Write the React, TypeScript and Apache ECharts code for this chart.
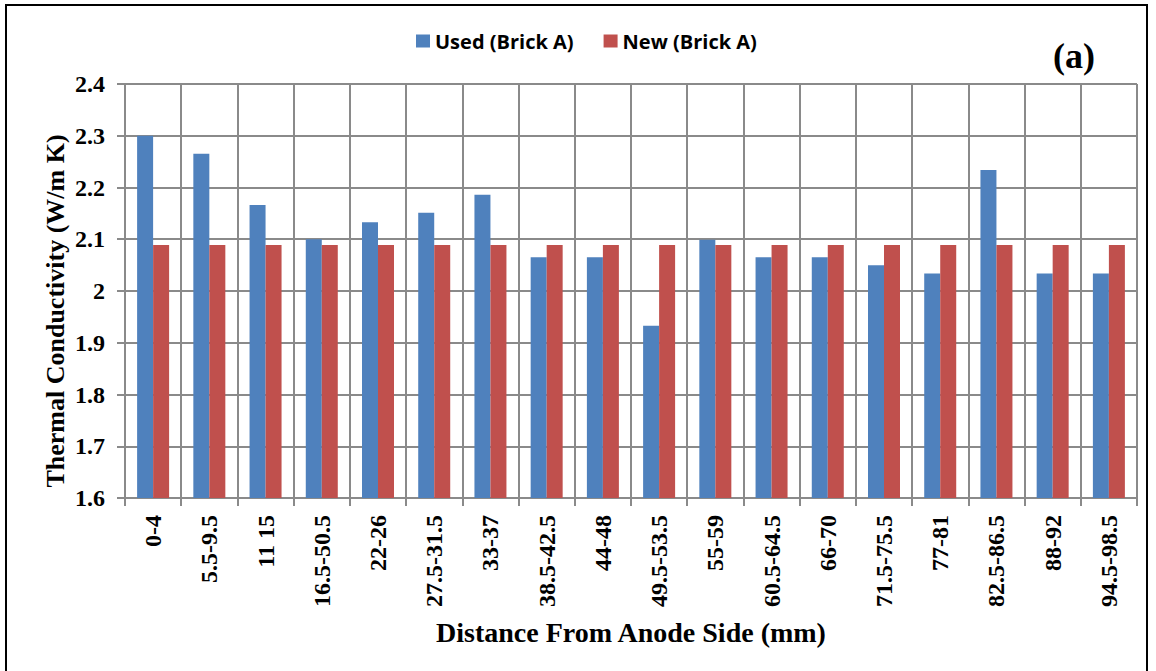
import React, { useEffect, useRef } from "react";
import * as echarts from "echarts";

const categories = [
  "0-4", "5.5-9.5", "11 15", "16.5-50.5", "22-26", "27.5-31.5", "33-37", "38.5-42.5", "44-48",
  "49.5-53.5", "55-59", "60.5-64.5", "66-70", "71.5-75.5", "77-81", "82.5-86.5", "88-92", "94.5-98.5",
];
const usedBrickA = [2.3, 2.265, 2.166, 2.1, 2.133, 2.151, 2.186, 2.065, 2.065, 1.933, 2.099, 2.065, 2.065, 2.05, 2.034, 2.234, 2.034, 2.034];
const newBrickA = [2.089, 2.089, 2.089, 2.089, 2.089, 2.089, 2.089, 2.089, 2.089, 2.089, 2.089, 2.089, 2.089, 2.089, 2.089, 2.089, 2.089, 2.089];
const yMin = 1.6;
const yMax = 2.4;
const yInterval = 0.1;
const yTitle = "Thermal Conductivity (W/m K)";

const serif = "'Liberation Serif', 'Times New Roman', serif";
const sans = "'Open Sans', 'Noto Sans', sans-serif";
const gridColor = "#8a8a8a";

export default function App() {
  const ref = useRef<HTMLDivElement>(null);
  useEffect(() => {
    if (!ref.current) return;
    const chart = echarts.init(ref.current, null, { renderer: "svg" });
    chart.setOption({
      animation: false,
      backgroundColor: "#ffffff",
      graphic: [
        {
          type: "rect",
          shape: { x: 6, y: 5, width: 1141, height: 700 },
          style: { fill: "none", stroke: "#000", lineWidth: 2 },
          silent: true,
        },
        {
          type: "text",
          left: 1053,
          top: 38,
          style: { text: "(a)", font: `bold 36px ${serif}`, fill: "#000" },
        },
        {
          type: "text",
          x: 55,
          y: 311,
          rotation: Math.PI / 2,
          style: {
            text: yTitle,
            font: `bold 26px ${serif}`,
            fill: "#000",
            align: "center",
            verticalAlign: "middle",
          },
        },
      ],
      legend: {
        top: 26,
        left: 411,
        itemWidth: 14,
        itemHeight: 13,
        itemGap: 30,
        icon: "rect",
        textStyle: { fontFamily: sans, fontWeight: "bold", fontSize: 20, color: "#000" },
        data: ["Used (Brick A)", "New (Brick A)"],
      },
      grid: { left: 125, right: 19, top: 84, bottom: 173, containLabel: false },
      xAxis: {
        type: "category",
        data: categories,
        boundaryGap: true,
        name: "Distance From Anode Side (mm)",
        nameLocation: "middle",
        nameGap: 120,
        nameTextStyle: { fontFamily: serif, fontWeight: "bold", fontSize: 28, color: "#000" },
        axisLine: { show: true, lineStyle: { color: gridColor, width: 2 } },
        axisTick: { show: true, length: 8, lineStyle: { color: gridColor, width: 2 } },
        splitLine: { show: true, lineStyle: { color: gridColor, width: 2 } },
        axisLabel: {
          rotate: 90,
          interval: 0,
          margin: 17,
          fontFamily: serif,
          fontWeight: "bold",
          fontSize: 24,
          color: "#000",
        },
      },
      yAxis: {
        type: "value",
        min: yMin,
        max: yMax,
        interval: yInterval,
        axisLine: { show: true, lineStyle: { color: gridColor, width: 2 } },
        axisTick: { show: true, length: 8, lineStyle: { color: gridColor, width: 2 } },
        splitLine: { show: true, lineStyle: { color: gridColor, width: 2 } },
        axisLabel: {
          margin: 20,
          fontFamily: serif,
          fontWeight: "bold",
          fontSize: 24,
          color: "#000",
          formatter: (v: number) => String(Math.round(v * 10) / 10),
        },
      },
      series: [
        {
          name: "Used (Brick A)",
          type: "bar",
          data: usedBrickA,
          barWidth: 16,
          barGap: "0%",
          itemStyle: { color: "#4F81BD" },
        },
        {
          name: "New (Brick A)",
          type: "bar",
          data: newBrickA,
          barWidth: 16,
          barGap: "0%",
          itemStyle: { color: "#C0504D" },
        },
      ],
    });
    return () => chart.dispose();
  }, []);
  return (
    <div
      ref={ref}
      style={{ position: "fixed", left: 0, top: 0, width: 1156, height: 671, background: "#fff" }}
    />
  );
}
